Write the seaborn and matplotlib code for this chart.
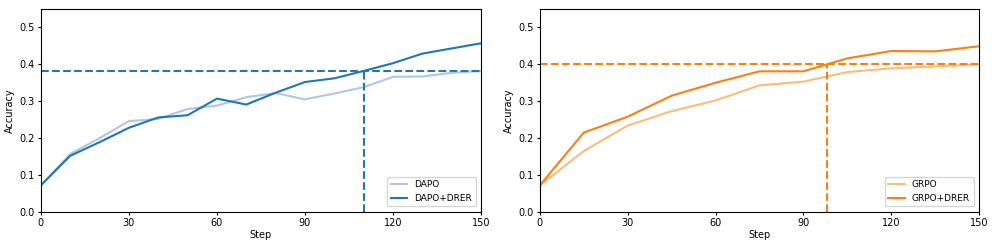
import numpy as np
import pandas as pd
import seaborn as sns
import matplotlib
matplotlib.use("Agg")
import matplotlib.pyplot as plt

# DAPO panel
dapo_steps = [0, 10, 20, 30, 40, 50, 60, 70, 80, 90, 100, 110, 120, 130, 140, 150]
dapo = [0.072, 0.157, 0.200, 0.246, 0.252, 0.279, 0.288, 0.311, 0.322, 0.305,
        0.321, 0.338, 0.366, 0.367, 0.377, 0.382]
dapo_drer = [0.072, 0.152, 0.189, 0.228, 0.256, 0.262, 0.307, 0.291, 0.323, 0.352,
             0.362, 0.382, 0.403, 0.429, 0.443, 0.457]

# GRPO panel
grpo_steps = [0, 15, 30, 45, 60, 75, 90, 105, 120, 135, 150]
grpo = [0.072, 0.165, 0.234, 0.273, 0.302, 0.343, 0.353, 0.379, 0.389, 0.394, 0.400]
grpo_drer = [0.072, 0.215, 0.258, 0.315, 0.350, 0.381, 0.381, 0.416, 0.436, 0.435, 0.449]

panels = [
    ("DAPO", dapo_steps, dapo, dapo_drer, "#aec7e8", "#1f77b4"),
    ("GRPO", grpo_steps, grpo, grpo_drer, "#ffbb78", "#ff7f0e"),
]

plt.rcParams["font.size"] = 7
fig = plt.figure(figsize=(9.97, 2.49), dpi=100)
axes = [fig.add_axes([0.041, 0.149, 0.4415, 0.815]),
        fig.add_axes([0.5415, 0.149, 0.4405, 0.815])]

for ax, (name, steps, base, ours, c_light, c_dark) in zip(axes, panels):
    df = pd.DataFrame({"Step": steps * 2,
                       "Accuracy": base + ours,
                       "Method": [name] * len(steps) + [name + "+DRER"] * len(steps)})
    sns.lineplot(data=df, x="Step", y="Accuracy", hue="Method",
                 palette=[c_light, c_dark], linewidth=1.5, ax=ax)
    # baseline final value and where the DRER curve first reaches it
    target = base[-1]
    s = np.array(steps, dtype=float)
    o = np.array(ours)
    i = np.argmax(o >= target)
    x_hit = s[i - 1] + (target - o[i - 1]) / (o[i] - o[i - 1]) * (s[i] - s[i - 1])
    ax.axhline(target, color=c_dark, linestyle="--", linewidth=1.5)
    ax.plot([x_hit, x_hit], [0, target], color=c_dark, linestyle="--", linewidth=1.5)
    ax.set_xlim(0, 150)
    ax.set_ylim(0, 0.55)
    ax.set_xticks([0, 30, 60, 90, 120, 150])
    ax.set_yticks([0.0, 0.1, 0.2, 0.3, 0.4, 0.5])
    ax.tick_params(labelsize=7, length=2.5, pad=2)
    ax.set_xlabel("Step", fontsize=7, labelpad=1)
    ax.set_ylabel("Accuracy", fontsize=7, labelpad=3)
    ax.legend(loc="lower right", fontsize=6.5, title=None, handlelength=1.8,
              borderaxespad=0.6)

fig.savefig("out.png", dpi=100)
